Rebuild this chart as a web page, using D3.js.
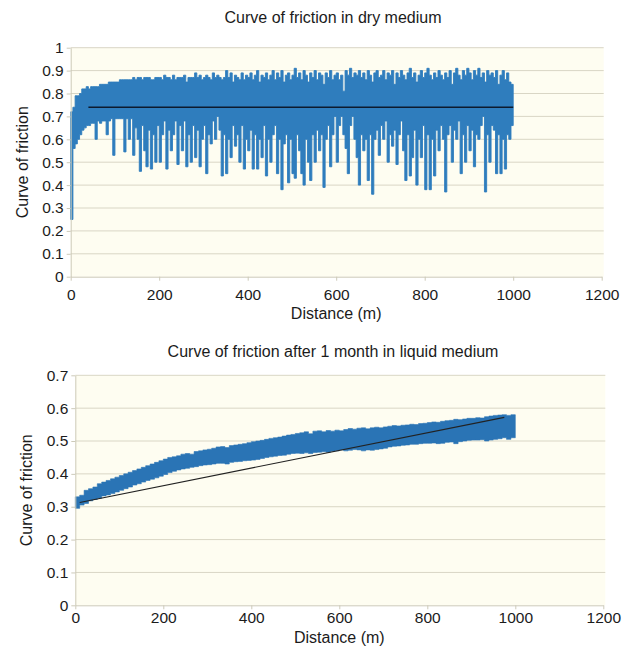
<!DOCTYPE html>
<html>
<head>
<meta charset="utf-8">
<script src="https://cdn.jsdelivr.net/npm/d3@7"></script>
<style>
  body { margin: 0; background: #ffffff; }
  svg { display: block; font-family: "Liberation Sans", Arial, sans-serif; }
</style>
</head>
<body>
<div id="chart"></div>
<script>
// Dry medium: friction read in 5 m bins (lowest and highest value in each bin)
var dryStep = 5;
var dryLow = [
  0.25, 0.56, 0.58, 0.60, 0.62, 0.64, 0.65, 0.66, 0.66, 0.67,
  0.67, 0.60, 0.68, 0.67, 0.68, 0.68, 0.62, 0.68, 0.69, 0.53,
  0.69, 0.69, 0.69, 0.69, 0.545, 0.69, 0.60, 0.69, 0.53, 0.65,
  0.60, 0.46, 0.66, 0.55, 0.48, 0.64, 0.47, 0.62, 0.50, 0.66,
  0.50, 0.62, 0.68, 0.47, 0.64, 0.55, 0.62, 0.68, 0.49, 0.66,
  0.55, 0.68, 0.48, 0.62, 0.50, 0.66, 0.52, 0.64, 0.48, 0.60,
  0.66, 0.45, 0.62, 0.58, 0.68, 0.60, 0.70, 0.64, 0.44, 0.62,
  0.45, 0.60, 0.52, 0.66, 0.57, 0.62, 0.50, 0.66, 0.47, 0.60,
  0.55, 0.64, 0.47, 0.62, 0.47, 0.60, 0.52, 0.66, 0.44, 0.60,
  0.50, 0.62, 0.66, 0.45, 0.60, 0.38, 0.58, 0.62, 0.41, 0.60,
  0.45, 0.43, 0.62, 0.55, 0.45, 0.40, 0.60, 0.50, 0.42, 0.62,
  0.50, 0.64, 0.55, 0.62, 0.39, 0.60, 0.66, 0.48, 0.62, 0.70,
  0.50, 0.66, 0.70, 0.62, 0.56, 0.45, 0.66, 0.70, 0.60, 0.52,
  0.40, 0.62, 0.55, 0.60, 0.42, 0.62, 0.36, 0.60, 0.64, 0.53,
  0.66, 0.60, 0.68, 0.50, 0.62, 0.57, 0.64, 0.49, 0.62, 0.68,
  0.55, 0.42, 0.62, 0.44, 0.52, 0.64, 0.40, 0.60, 0.52, 0.66,
  0.38, 0.62, 0.38, 0.60, 0.44, 0.64, 0.55, 0.66, 0.60, 0.37,
  0.62, 0.66, 0.50, 0.64, 0.60, 0.68, 0.45, 0.62, 0.50, 0.66,
  0.55, 0.64, 0.48, 0.62, 0.60, 0.66, 0.70, 0.37, 0.62, 0.50,
  0.66, 0.64, 0.45, 0.62, 0.45, 0.60, 0.47, 0.62, 0.60, 0.66
];
var dryHigh = [
  0.72, 0.74, 0.79, 0.79, 0.80, 0.82, 0.82, 0.83, 0.82, 0.83,
  0.83, 0.83, 0.83, 0.84, 0.84, 0.84, 0.84, 0.85, 0.85, 0.85,
  0.85, 0.85, 0.86, 0.86, 0.86, 0.86, 0.86, 0.86, 0.87, 0.86,
  0.87, 0.87, 0.86, 0.87, 0.87, 0.87, 0.86, 0.86, 0.87, 0.87,
  0.87, 0.86, 0.88, 0.87, 0.87, 0.86, 0.88, 0.86, 0.87, 0.87,
  0.87, 0.88, 0.85, 0.87, 0.87, 0.87, 0.89, 0.87, 0.88, 0.86,
  0.87, 0.88, 0.87, 0.86, 0.89, 0.87, 0.88, 0.87, 0.86, 0.87,
  0.90, 0.87, 0.89, 0.85, 0.88, 0.87, 0.86, 0.89, 0.86, 0.88,
  0.87, 0.89, 0.86, 0.88, 0.90, 0.85, 0.88, 0.87, 0.89, 0.86,
  0.88, 0.90, 0.86, 0.89, 0.87, 0.90, 0.85, 0.88, 0.89, 0.86,
  0.88, 0.91, 0.87, 0.89, 0.86, 0.90, 0.88, 0.85, 0.89, 0.87,
  0.90, 0.86, 0.89, 0.88, 0.84, 0.89, 0.87, 0.90, 0.86, 0.88,
  0.89, 0.86, 0.88, 0.81, 0.90, 0.88, 0.91, 0.87, 0.89, 0.88,
  0.90, 0.87, 0.89, 0.86, 0.90, 0.88, 0.85, 0.89, 0.90, 0.87,
  0.88, 0.90, 0.86, 0.89, 0.88, 0.90, 0.84, 0.89, 0.87, 0.90,
  0.88, 0.86, 0.89, 0.91, 0.87, 0.89, 0.85, 0.88, 0.90, 0.87,
  0.89, 0.91, 0.88, 0.86, 0.89, 0.87, 0.90, 0.88, 0.86, 0.89,
  0.87, 0.90, 0.84, 0.89, 0.91, 0.88, 0.86, 0.90, 0.88, 0.91,
  0.89, 0.86, 0.90, 0.88, 0.91, 0.87, 0.89, 0.85, 0.90, 0.88,
  0.89, 0.87, 0.90, 0.84, 0.88, 0.90, 0.86, 0.89, 0.85, 0.84
];
var dryTrendX = [40, 1000];
var dryTrendY = [0.74, 0.74];
var dryYTicks = [0, 0.1, 0.2, 0.3, 0.4, 0.5, 0.6, 0.7, 0.8, 0.9, 1];

// Liquid medium (after 1 month): friction read in 10 m bins
var liquidStep = 10;
var liquidLow = [
  0.295, 0.305, 0.31, 0.318, 0.322, 0.326, 0.333, 0.336, 0.34, 0.345,
  0.35, 0.355, 0.36, 0.366, 0.37, 0.375, 0.38, 0.384, 0.388, 0.393,
  0.398, 0.404, 0.408, 0.412, 0.415, 0.417, 0.42, 0.422, 0.425, 0.427,
  0.428, 0.43, 0.432, 0.432, 0.43, 0.435, 0.437, 0.438, 0.44, 0.441,
  0.442, 0.444, 0.447, 0.45, 0.452, 0.454, 0.456, 0.457, 0.46, 0.462,
  0.463, 0.462, 0.464, 0.462, 0.465, 0.466, 0.467, 0.466, 0.469, 0.47,
  0.473, 0.47, 0.472, 0.474, 0.473, 0.47, 0.473, 0.472, 0.474, 0.476,
  0.478, 0.482, 0.484, 0.485, 0.487, 0.488, 0.49, 0.49, 0.492, 0.493,
  0.493, 0.494, 0.492, 0.493, 0.496, 0.497, 0.492, 0.498, 0.50, 0.502,
  0.503, 0.503, 0.504, 0.50, 0.503, 0.505, 0.507, 0.51, 0.505, 0.51
];
var liquidHigh = [
  0.33, 0.335, 0.35, 0.355, 0.36, 0.37, 0.375, 0.38, 0.385, 0.39,
  0.395, 0.40, 0.405, 0.41, 0.415, 0.42, 0.425, 0.43, 0.435, 0.44,
  0.445, 0.45, 0.452, 0.455, 0.46, 0.462, 0.46, 0.468, 0.47, 0.473,
  0.475, 0.478, 0.482, 0.483, 0.48, 0.486, 0.488, 0.49, 0.492, 0.495,
  0.498, 0.50, 0.502, 0.505, 0.508, 0.51, 0.512, 0.515, 0.518, 0.52,
  0.523, 0.525, 0.528, 0.522, 0.53, 0.531, 0.528, 0.532, 0.53, 0.533,
  0.531, 0.535, 0.538, 0.536, 0.539, 0.54, 0.537, 0.54, 0.542, 0.54,
  0.543, 0.545, 0.547, 0.546, 0.548, 0.549, 0.551, 0.55, 0.553, 0.554,
  0.556, 0.558, 0.557, 0.56, 0.562, 0.563, 0.566, 0.565, 0.567, 0.569,
  0.569, 0.571, 0.57, 0.574, 0.576, 0.578, 0.579, 0.58, 0.578, 0.58
];
var liquidTrendX = [10, 975];
var liquidTrendY = [0.313, 0.572];
var liquidYTicks = [0, 0.1, 0.2, 0.3, 0.4, 0.5, 0.6, 0.7];

var xTicks = [0, 200, 400, 600, 800, 1000, 1200];

// Colours
var plotBg = "#fefdf1";
var gridColor = "#d9d6c5";
var axisColor = "#cdcab9";
var textColor = "#1b1b1b";

var svg = d3.select("#chart")
    .append("svg")
    .attr("width", 627)
    .attr("height", 648);

function drawPanel(cfg) {
    var x = d3.scaleLinear().domain([0, 1200]).range([cfg.left, cfg.right]);
    var y = d3.scaleLinear().domain([0, cfg.yMax]).range([cfg.bottom, cfg.top]);

    var g = svg.append("g");

    // plot background
    g.append("rect")
        .attr("x", cfg.left)
        .attr("y", cfg.top)
        .attr("width", cfg.right - cfg.left + 2)
        .attr("height", cfg.bottom - cfg.top)
        .attr("fill", plotBg);

    // horizontal gridlines
    g.selectAll(".grid")
        .data(cfg.yTicks.slice(1))
        .enter()
        .append("line")
        .attr("x1", cfg.left)
        .attr("x2", cfg.right + 2)
        .attr("y1", d => y(d))
        .attr("y2", d => y(d))
        .attr("stroke", gridColor)
        .attr("stroke-width", 1);

    // band of readings, one step per bin
    var pts = cfg.low.map((v, i) => ({ d: i * cfg.step, lo: v, hi: cfg.high[i] }));
    var last = pts[pts.length - 1];
    pts.push({ d: last.d + cfg.step, lo: last.lo, hi: last.hi });

    var area = d3.area()
        .curve(d3.curveStepAfter)
        .x(p => x(p.d))
        .y0(p => y(p.lo))
        .y1(p => y(p.hi));

    g.append("path")
        .datum(pts)
        .attr("d", area)
        .attr("fill", cfg.color)
        .attr("stroke", cfg.color)
        .attr("stroke-width", cfg.bandStroke);

    // trend line
    var trend = cfg.trendX.map((d, i) => [d, cfg.trendY[i]]);
    g.append("path")
        .datum(trend)
        .attr("d", d3.line().x(p => x(p[0])).y(p => y(p[1])))
        .attr("fill", "none")
        .attr("stroke", cfg.trendColor)
        .attr("stroke-width", cfg.trendWidth);

    // axes
    var xAxis = g.append("g")
        .attr("transform", `translate(0, ${cfg.bottom})`)
        .call(d3.axisBottom(x).tickValues(xTicks).tickSize(4).tickSizeOuter(0).tickPadding(cfg.xPad)
            .tickFormat(d => String(d)));

    var yAxis = g.append("g")
        .attr("transform", `translate(${cfg.left}, 0)`)
        .call(d3.axisLeft(y).tickValues(cfg.yTicks).tickSize(4).tickSizeOuter(0).tickPadding(3)
            .tickFormat(d => String(d)));

    [xAxis, yAxis].forEach(a => {
        a.select(".domain").attr("stroke", axisColor);
        a.selectAll(".tick line").attr("stroke", axisColor);
        a.selectAll("text")
            .attr("fill", textColor)
            .style("font-size", "15.5px")
            .style("font-family", '"Liberation Sans", Arial, sans-serif');
    });

    // title
    g.append("text")
        .attr("x", cfg.titleX)
        .attr("y", cfg.titleY)
        .attr("text-anchor", "middle")
        .attr("fill", textColor)
        .style("font-size", "16px")
        .text(cfg.title);

    // axis titles
    g.append("text")
        .attr("x", (cfg.left + cfg.right) / 2)
        .attr("y", cfg.xLabelY)
        .attr("text-anchor", "middle")
        .attr("fill", textColor)
        .style("font-size", "16px")
        .text("Distance (m)");

    g.append("text")
        .attr("transform", `translate(${cfg.yLabelX}, ${(cfg.top + cfg.bottom) / 2}) rotate(-90)`)
        .attr("text-anchor", "middle")
        .attr("fill", textColor)
        .style("font-size", "16px")
        .text("Curve of friction");
}

drawPanel({
    title: "Curve of friction in dry medium",
    titleX: 333, titleY: 23,
    left: 70.7, right: 601.7, top: 47.7, bottom: 276.7,
    yMax: 1, yTicks: dryYTicks, xPad: 8,
    xLabelY: 319, yLabelX: 28,
    step: dryStep, low: dryLow, high: dryHigh,
    color: "#2f7dbd", bandStroke: 0.9, trendColor: "#0d1a2e", trendWidth: 1.6,
    trendX: dryTrendX, trendY: dryTrendY
});

drawPanel({
    title: "Curve of friction after 1 month in liquid medium",
    titleX: 333, titleY: 357,
    left: 75.3, right: 603.3, top: 375.3, bottom: 605.3,
    yMax: 0.7, yTicks: liquidYTicks, xPad: 3,
    xLabelY: 643, yLabelX: 32,
    step: liquidStep, low: liquidLow, high: liquidHigh,
    color: "#2a74b5", bandStroke: 0.6, trendColor: "#222222", trendWidth: 1.1,
    trendX: liquidTrendX, trendY: liquidTrendY
});
</script>
</body>
</html>
